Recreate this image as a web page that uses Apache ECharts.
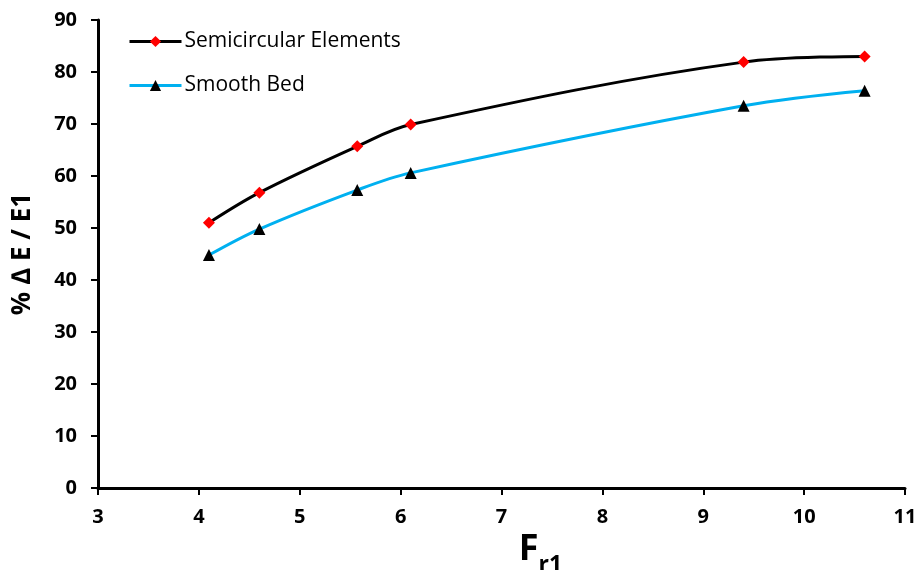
<!DOCTYPE html>
<html>
<head>
<meta charset="utf-8">
<script src="https://cdn.jsdelivr.net/npm/echarts@6/dist/echarts.min.js"></script>
<style>html,body{margin:0;padding:0;background:#fff;}#c{width:919px;height:570px;}</style>
</head>
<body>
<div id="c"></div>
<script>
const froude = [4.1, 4.6, 5.57, 6.1, 9.4, 10.6];
const semicircular = [51.0, 56.8, 65.7, 69.9, 81.9, 83.0];
const smoothBed = [44.8, 49.8, 57.3, 60.6, 73.5, 76.4];
const seriesNames = ['Semicircular Elements', 'Smooth Bed'];

const font = '"Open Sans", "DejaVu Sans", sans-serif';
const chart = echarts.init(document.getElementById('c'));
const pairs = (ys) => froude.map((x, i) => [x, ys[i]]);

chart.setOption({
  animation: false,
  backgroundColor: '#fff',
  grid: { left: 98, right: 14, top: 20, bottom: 82, containLabel: false, outerBoundsMode: 'none' },
  legend: {
    orient: 'vertical',
    left: 123,
    top: 26,
    itemWidth: 52,
    itemHeight: 14,
    itemGap: 23,
    lineStyle: { width: 3 },
    textStyle: { fontFamily: font, fontSize: 21, color: '#000', padding: [0,0,0,-2] },
    data: seriesNames
  },
  xAxis: {
    type: 'value', min: 3, max: 11, interval: 1,
    name: '{a|F}{b|r1}',
    nameLocation: 'middle',
    nameGap: 32,
    nameTextStyle: {
      padding: [0, 0, 0, 78],
      rich: {
        a: { fontFamily: font, fontSize: 36, fontWeight: 'bold', color: '#000', verticalAlign: 'top' },
        b: { fontFamily: font, fontSize: 23, fontWeight: 'bold', color: '#000', verticalAlign: 'top', padding: [22,0,0,0] }
      }
    },
    axisLine: { show: true, lineStyle: { color: '#000', width: 3 } },
    axisTick: { show: true, length: 7, lineStyle: { color: '#000', width: 2 } },
    axisLabel: { fontFamily: font, fontSize: 20, fontWeight: 'bold', color: '#000', margin: 19 },
    splitLine: { show: false }
  },
  yAxis: {
    type: 'value', min: 0, max: 90, interval: 10,
    name: '% ∆ E / E1',
    nameLocation: 'middle',
    nameRotate: 90,
    nameGap: 62,
    nameTextStyle: { fontFamily: font, fontSize: 26, fontWeight: 'bold', color: '#000' },
    axisLine: { show: true, lineStyle: { color: '#000', width: 3 } },
    axisTick: { show: true, length: 7, lineStyle: { color: '#000', width: 2 } },
    axisLabel: { fontFamily: font, fontSize: 20, fontWeight: 'bold', color: '#000', margin: 21 },
    splitLine: { show: false }
  },
  series: [
    {
      name: seriesNames[0], type: 'line', data: pairs(semicircular),
      smooth: 0.35, symbol: 'diamond', symbolSize: 12,
      lineStyle: { color: '#000', width: 3 },
      itemStyle: { color: '#ff0000', borderWidth: 0 },
      z: 3
    },
    {
      name: seriesNames[1], type: 'line', data: pairs(smoothBed),
      smooth: 0.35, symbol: 'triangle', symbolSize: 12,
      lineStyle: { color: '#00b0f0', width: 3 },
      itemStyle: { color: '#000', borderWidth: 0 },
      z: 3
    }
  ]
});
</script>
</body>
</html>
